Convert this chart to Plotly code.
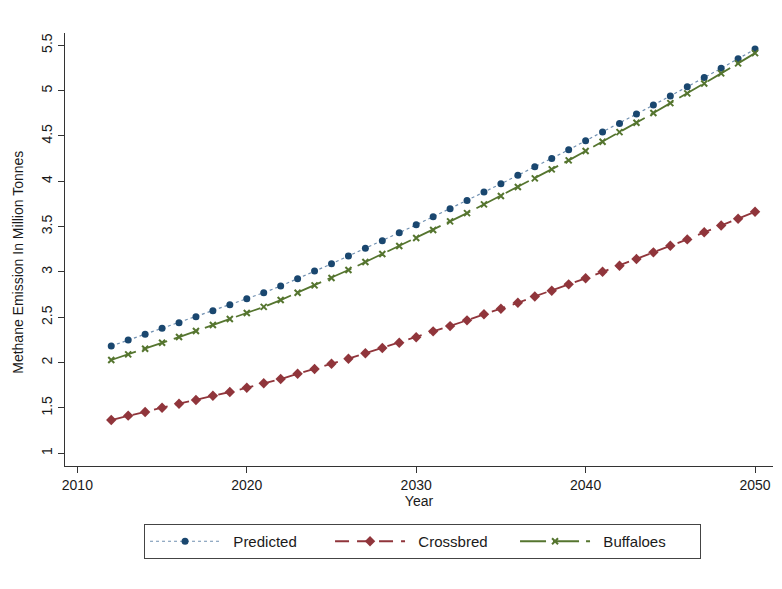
import plotly.graph_objects as go

# Projected methane emission (million tonnes), 2012-2050
years = list(range(2012, 2051))

predicted = [2.183, 2.249, 2.312, 2.378, 2.440, 2.506, 2.572, 2.638, 2.705, 2.771,
             2.845, 2.925, 3.010, 3.090, 3.175, 3.260, 3.344, 3.432, 3.520, 3.609,
             3.697, 3.789, 3.881, 3.972, 4.065, 4.160, 4.252, 4.347, 4.447, 4.542,
             4.638, 4.741, 4.840, 4.939, 5.042, 5.145, 5.245, 5.351, 5.458]

crossbred = [1.367, 1.415, 1.455, 1.503, 1.547, 1.588, 1.635, 1.676, 1.723, 1.772,
             1.819, 1.878, 1.929, 1.988, 2.043, 2.103, 2.161, 2.219, 2.280, 2.345,
             2.403, 2.466, 2.533, 2.594, 2.660, 2.730, 2.793, 2.863, 2.930, 3.002,
             3.068, 3.142, 3.216, 3.289, 3.359, 3.437, 3.512, 3.587, 3.664]

buffaloes = [2.029, 2.091, 2.153, 2.219, 2.282, 2.348, 2.415, 2.481, 2.547, 2.615,
             2.690, 2.771, 2.852, 2.933, 3.021, 3.109, 3.197, 3.286, 3.374, 3.462,
             3.558, 3.649, 3.745, 3.837, 3.936, 4.032, 4.131, 4.230, 4.333, 4.436,
             4.542, 4.645, 4.752, 4.862, 4.969, 5.079, 5.190, 5.300, 5.413]

x_ticks = [2010, 2020, 2030, 2040, 2050]
y_ticks = [1, 1.5, 2, 2.5, 3, 3.5, 4, 4.5, 5, 5.5]
y_tick_text = ["1", "1.5", "2", "2.5", "3", "3.5", "4", "4.5", "5", "5.5"]

NAVY = "#1a476f"
MAROON = "#90353b"
GREEN = "#55752f"
FONT = "Liberation Sans, Arial, Helvetica, sans-serif"
PAD = "\u00a0\u00a0"  # extra gap between legend key and its label

fig = go.Figure()

fig.add_trace(go.Scatter(
    x=years, y=predicted, name=PAD + "Predicted", mode="lines+markers",
    line=dict(color="#6f8fb0", width=1.2, dash="dot"),
    marker=dict(symbol="circle", size=7, color=NAVY),
))
fig.add_trace(go.Scatter(
    x=years, y=crossbred, name=PAD + "Crossbred", mode="lines+markers",
    line=dict(color=MAROON, width=1.8, dash="14px,8px"),
    marker=dict(symbol="diamond", size=8, color=MAROON),
))
fig.add_trace(go.Scatter(
    x=years, y=buffaloes, name=PAD + "Buffaloes", mode="lines+markers",
    line=dict(color=GREEN, width=1.8, dash="26px,7px"),
    marker=dict(symbol="x-thin", size=6, color=GREEN,
                line=dict(color=GREEN, width=2)),
))

fig.update_layout(
    width=782, height=589,
    margin=dict(l=65, r=9, t=33, b=123),
    paper_bgcolor="white", plot_bgcolor="white",
    font=dict(family=FONT, size=14, color="#1a1a1a"),
    showlegend=True,
    legend=dict(
        orientation="h", x=0.505, xanchor="center", y=-0.134, yanchor="top",
        bordercolor="#444444", borderwidth=1, bgcolor="white",
        font=dict(family=FONT, size=15, color="#1a1a1a"),
        itemwidth=70, entrywidth=100, entrywidthmode="pixels",
    ),
    xaxis=dict(
        range=[2009.27, 2051.06], tickmode="array", tickvals=x_ticks,
        showgrid=False, zeroline=False, showline=True, linecolor="#333333",
        linewidth=1, ticks="outside", ticklen=6, tickcolor="#333333",
        tickfont=dict(size=14),
        title=dict(text="Year", font=dict(size=14), standoff=4),
    ),
    yaxis=dict(
        range=[0.86, 5.635], tickmode="array", tickvals=y_ticks,
        ticktext=y_tick_text, tickangle=-90,
        showgrid=False, zeroline=False, showline=True, linecolor="#333333",
        linewidth=1, ticks="outside", ticklen=6, tickcolor="#333333",
        tickfont=dict(size=14),
    ),
    annotations=[dict(
        text="Methane Emission In Million Tonnes", textangle=-90,
        xref="paper", yref="paper", x=-0.066, y=0.47,
        xanchor="center", yanchor="middle", showarrow=False,
        font=dict(family=FONT, size=14, color="#1a1a1a"),
    )],
)

fig.write_html("out.html")
